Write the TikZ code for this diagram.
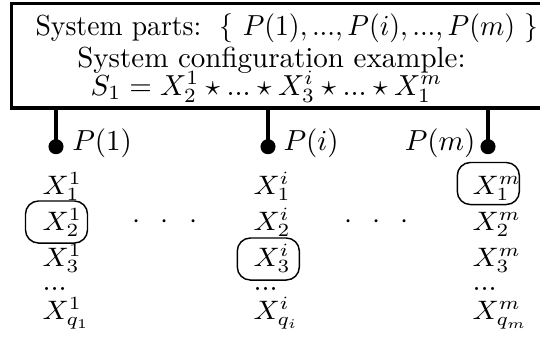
\documentclass[tikz,border=0pt]{standalone}
\newcommand{\vsq}[1]{\scalebox{1}[0.92]{#1}}
\begin{document}
\begin{tikzpicture}[x=0.345pt,y=-0.345pt,
  frame/.style={draw,line width=1.15pt,inner sep=0pt,minimum width=189pt,minimum height=35.9pt},
  txt/.style={anchor=base west,inner sep=0pt},
  conn/.style={line width=1.15pt},
  pin/.style={circle,fill=black,inner sep=0pt,minimum size=5.2pt},
  sel/.style={draw,rounded corners=4.5pt,line width=0.5pt,minimum width=21.4pt,minimum height=14.5pt,inner sep=0pt},
  dots/.style={anchor=base,inner sep=0pt}
]
\useasboundingbox (0,0) rectangle (540,339);
\begin{scope}
\clip (0,0) rectangle (540,339);
% header frame (right side runs off the picture)
\node[frame] (box) at (285.7,55.8) {};
\node[txt] (h1) at (35,35) {\scalebox{0.955}[1]{System parts:~~$\{\ P(1),...,P(i),...,P(m)\ \}$}};
\node[txt] (h2) at (76.7,67) {System configuration example:};
\node[txt] (h3) at (90,95) {$S_1 = X_2^1 \star ... \star X_3^i \star ... \star X_1^m$};
% pins
\node[pin] (p1) at (56,146.7) {};
\node[pin] (pi) at (268,146.7) {};
\node[pin] (pm) at (488,146.7) {};
\draw[conn] (p1.center) -- (p1 |- box.south);
\draw[conn] (pi.center) -- (pi |- box.south);
\draw[conn] (pm.center) -- (pm |- box.south);
\node[txt] (l1) at (71.7,150) {$P(1)$};
\node[txt] (li) at (283,150) {$P(i)$};
\node[anchor=base east,inner sep=0pt] (lm) at (476,150) {$P(m)$};
% column 1
\node[txt] (a1) at (42,194) {\vsq{$X_1^1$}};
\node[txt] (a2) at (42,230) {\vsq{$X_2^1$}};
\node[txt] (a3) at (42,266) {\vsq{$X_3^1$}};
\node[txt] (a4) at (42,290) {$...$};
\node[txt] (a5) at (42,319) {\vsq{$X_{q_1}^1$}};
% column i
\node[txt] (b1) at (253,194) {\vsq{$X_1^i$}};
\node[txt] (b2) at (253,230) {\vsq{$X_2^i$}};
\node[txt] (b3) at (253,266) {\vsq{$X_3^i$}};
\node[txt] (b4) at (253,290) {$...$};
\node[txt] (b5) at (253,319) {\vsq{$X_{q_i}^i$}};
% column m
\node[txt] (c1) at (472,194) {\vsq{$X_1^m$}};
\node[txt] (c2) at (472,230) {\vsq{$X_2^m$}};
\node[txt] (c3) at (472,266) {\vsq{$X_3^m$}};
\node[txt] (c4) at (472,290) {$...$};
\node[txt] (c5) at (472,319) {\vsq{$X_{q_m}^m$}};
% dots between columns
\node[dots] (d1) at (165,228) {$\cdot$\hspace{7pt}$\cdot$\hspace{7pt}$\cdot$};
\node[dots] (d2) at (376.7,228) {$\cdot$\hspace{7pt}$\cdot$\hspace{7pt}$\cdot$};
% selected elements
\node[sel] (s1) at (56.5,222) {};
\node[sel] (s2) at (268.3,259) {};
\node[sel] (s3) at (488.3,183.5) {};
\end{scope}
\end{tikzpicture}
\end{document}
